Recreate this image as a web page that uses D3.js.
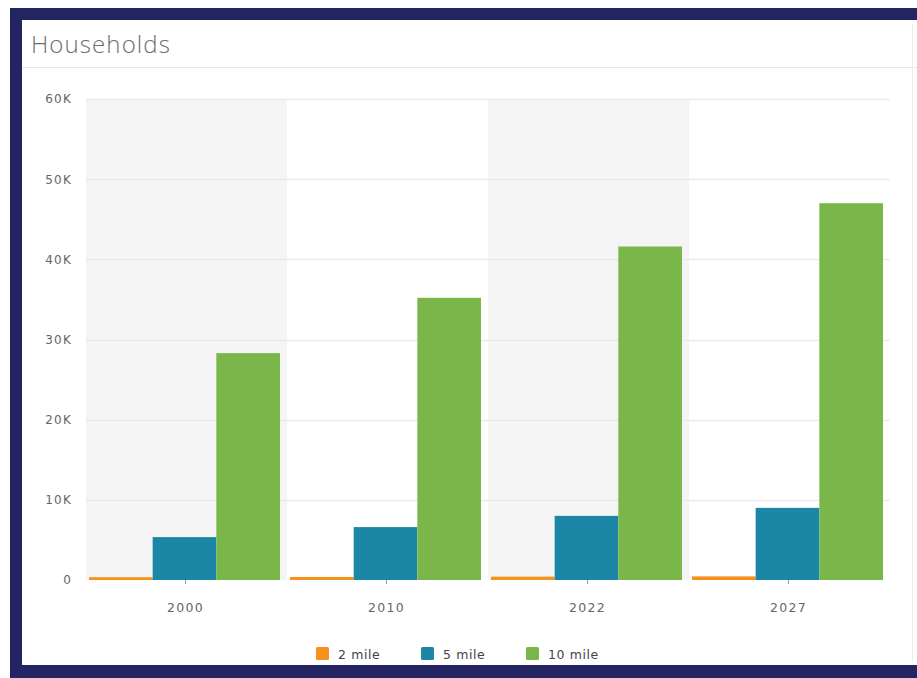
<!DOCTYPE html>
<html><head><meta charset="utf-8">
<script src="https://cdn.jsdelivr.net/npm/d3@7"></script>
<style>
html,body{margin:0;padding:0;background:#fff;}
svg{display:block;font-family:"DejaVu Sans",Arial,sans-serif;}
</style></head>
<body>
<svg id="c" width="917" height="678"></svg>
<script>
const title = "Households";
const categories = ["2000", "2010", "2022", "2027"];
const seriesNames = ["2 mile", "5 mile", "10 mile"];
const mile2 = [350, 380, 420, 450];
const mile5 = [5350, 6600, 8000, 9000];
const mile10 = [28300, 35200, 41600, 47000];
const yTicks = [0, 10000, 20000, 30000, 40000, 50000, 60000];
const yTickLabels = ["0", "10K", "20K", "30K", "40K", "50K", "60K"];
const colors = ["#f5921e", "#1b86a6", "#7bb64b"];

(function () {
const series = [mile2, mile5, mile10];
const svg = d3.select("#c");

// frame
svg.append("rect").attr("x", 0).attr("y", 0).attr("width", 917).attr("height", 678).attr("fill", "#fff");
svg.append("rect").attr("x", 10).attr("y", 8).attr("width", 920).attr("height", 670).attr("fill", "#232462");
svg.append("rect").attr("x", 22).attr("y", 20).attr("width", 900).attr("height", 645).attr("fill", "#fff");
svg.append("line").attr("x1", 22).attr("x2", 917).attr("y1", 67.5).attr("y2", 67.5).attr("stroke", "#e6e6e6");
svg.append("line").attr("x1", 912.5).attr("x2", 912.5).attr("y1", 24).attr("y2", 662).attr("stroke", "#eeeeee");
svg.append("text").attr("x", 31).attr("y", 53).attr("font-size", 24).attr("fill", "#6e6e6e")
  .attr("font-family", "'Open Sans', sans-serif").attr("font-weight", 300)
  .attr("letter-spacing", 1.1).text(title);

const pl = 86, pr = 890, pt = 99, pb = 580;
const x = d3.scaleBand().domain(categories).range([pl, pr]).padding(0);
const y = d3.scaleLinear().domain([0, 60000]).range([pb, pt]);
const xi = d3.scaleBand().domain(seriesNames).range([3, x.bandwidth() - 7]).padding(0);

// alternating bands
svg.append("g").selectAll("rect").data(categories.filter((d, i) => i % 2 === 0)).join("rect")
  .attr("x", d => x(d)).attr("y", pt).attr("width", x.bandwidth()).attr("height", pb - pt)
  .attr("fill", "#f5f5f5");

// grid
svg.append("g").selectAll("line").data(yTicks.slice(1)).join("line")
  .attr("x1", pl).attr("x2", pr).attr("y1", d => Math.round(y(d)) + 0.5).attr("y2", d => Math.round(y(d)) + 0.5)
  .attr("stroke", "#e9e9e9").attr("stroke-width", 1.5);

// y axis
const yAxis = d3.axisLeft(y).tickValues(yTicks).tickFormat((d, i) => yTickLabels[i]).tickSize(0).tickPadding(0);
const gy = svg.append("g").attr("transform", `translate(${pl - 14},0)`).call(yAxis);
gy.select(".domain").remove();
gy.selectAll("text").attr("font-size", 12).attr("letter-spacing", 1.2).attr("fill", "#666")
  .attr("font-family", "'DejaVu Sans', sans-serif");

// bars
const groups = svg.append("g").selectAll("g").data(categories).join("g")
  .attr("transform", d => `translate(${x(d)},0)`);
groups.selectAll("rect").data((d, i) => seriesNames.map((s, k) => ({s, k, v: series[k][i]}))).join("rect")
  .attr("x", d => xi(d.s)).attr("width", xi.bandwidth())
  .attr("y", d => y(d.v)).attr("height", d => pb - y(d.v))
  .attr("fill", d => colors[d.k]);

// x axis
const xAxis = d3.axisBottom(x).tickSize(4).tickPadding(19);
const gx = svg.append("g").attr("transform", `translate(-1,${pb})`).call(xAxis);
gx.select(".domain").remove();
gx.selectAll(".tick line").attr("stroke", "#999");
gx.selectAll("text").attr("font-size", 12.5).attr("letter-spacing", 1.3).attr("fill", "#666")
  .attr("font-family", "'DejaVu Sans', sans-serif");

// legend
const legendX = [316, 421, 526];
const lg = svg.append("g").selectAll("g").data(seriesNames).join("g")
  .attr("transform", (d, i) => `translate(${legendX[i]},647)`);
lg.append("rect").attr("width", 13).attr("height", 13).attr("rx", 1.5).attr("fill", (d, i) => colors[i]);
lg.append("text").attr("x", 22).attr("y", 11.5).attr("font-size", 12.5).attr("letter-spacing", 0.6)
  .attr("fill", "#444").text(d => d);
})();
</script>
</body></html>
